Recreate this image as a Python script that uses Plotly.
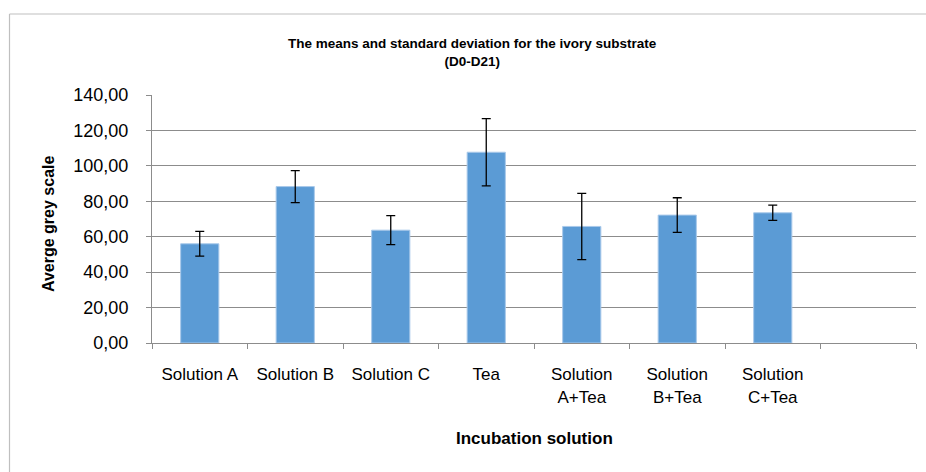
import plotly.graph_objects as go

categories = ["Solution A", "Solution B", "Solution C", "Tea",
              "Solution<br>A+Tea", "Solution<br>B+Tea", "Solution<br>C+Tea"]
empty_slot = [" "]
means = [56.0, 88.3, 63.7, 107.7, 65.8, 72.2, 73.5]
sds = [7.0, 9.0, 8.2, 19.0, 18.7, 9.8, 4.3]
y_ticks = [0, 20, 40, 60, 80, 100, 120, 140]

W, H = 926, 472
L, R, T, B = 152, 10, 95, 129
pw, ph = W - L - R, H - T - B

def px_x(xp):  # page pixel -> paper coordinate
    return (xp - L) / pw

def px_y(yp):
    return (H - B - yp) / ph

fig = go.Figure()
fig.add_trace(go.Bar(
    x=categories, y=means,
    marker=dict(color="#5B9BD5", line=dict(color="#A9C9EA", width=1)),
    error_y=dict(type="data", array=sds, color="black", thickness=1.3, width=4.5),
))

grid = "#8C8C8C"
border = "#BFBFBF"
fig.update_layout(
    width=W, height=H,
    margin=dict(l=L, r=R, t=T, b=B),
    paper_bgcolor="white", plot_bgcolor="white",
    separators=",.",
    bargap=0.6,
    showlegend=False,
    font=dict(family="Liberation Sans, Arial, sans-serif", color="black"),
    xaxis=dict(
        type="category",
        categoryorder="array", categoryarray=categories + empty_slot,
        range=[-0.5, 7.5],
        tickson="boundaries", ticks="outside", ticklen=5, tickcolor=grid,
        showline=True, linecolor=grid, linewidth=1,
        showgrid=False,
        tickfont=dict(size=17),
        ticklabelstandoff=16,
    ),
    yaxis=dict(
        range=[0, 140], tickvals=y_ticks, tickformat=".2f",
        ticks="outside", ticklen=5, tickcolor=grid,
        showline=True, linecolor=grid, linewidth=1,
        showgrid=True, gridcolor=grid, gridwidth=1,
        zeroline=False,
        tickfont=dict(size=18),
        ticklabelstandoff=14,
    ),
    shapes=[
        dict(type="line", xref="paper", yref="paper",
             x0=px_x(9.5), x1=px_x(940), y0=px_y(14), y1=px_y(14),
             line=dict(color=border, width=1.2), layer="below"),
        dict(type="line", xref="paper", yref="paper",
             x0=px_x(9.5), x1=px_x(9.5), y0=px_y(14), y1=px_y(490),
             line=dict(color=border, width=1.2), layer="below"),
    ],
    annotations=[
        dict(text="<b>The means and standard deviation for the ivory substrate</b><br><b>(D0-D21)</b>",
             xref="paper", yref="paper", x=px_x(472), y=px_y(52),
             xanchor="center", yanchor="middle", showarrow=False,
             font=dict(size=13.5), align="center"),
        dict(text="<b>Incubation solution</b>",
             xref="paper", yref="paper", x=px_x(534), y=px_y(438),
             xanchor="center", yanchor="middle", showarrow=False,
             font=dict(size=17)),
        dict(text="<b>Averge grey scale</b>",
             xref="paper", yref="paper", x=px_x(48), y=px_y(224),
             xanchor="center", yanchor="middle", showarrow=False,
             textangle=-90, font=dict(size=16)),
    ],
)

fig.write_html(
    "out.html",
    config={"displayModeBar": False},
    post_script="document.body.style.margin='0';document.body.style.overflow='hidden';",
)
